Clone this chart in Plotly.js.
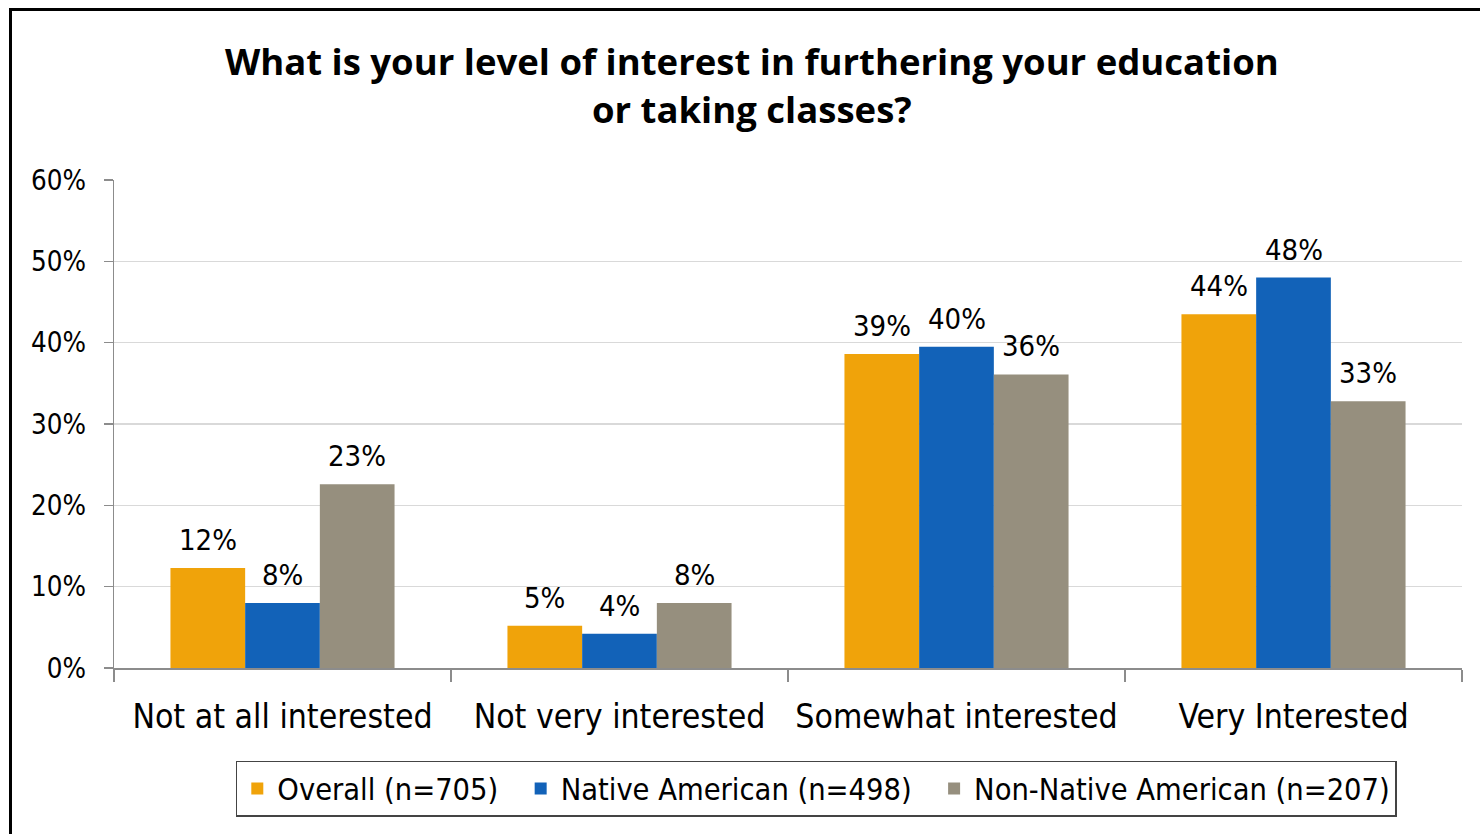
<!DOCTYPE html>
<html>
<head>
<meta charset="utf-8">
<script src="https://cdn.plot.ly/plotly-3.0.1.min.js"></script>
<style>
html,body{margin:0;padding:0;background:#fff;overflow:hidden;}
#frame{position:absolute;left:9px;top:8px;width:1600px;height:1000px;border-left:3px solid #000;border-top:3px solid #000;pointer-events:none;z-index:5;}
#chart{position:absolute;left:0;top:0;width:1480px;height:834px;}
</style>
</head>
<body>
<div id="chart"></div>
<div id="frame"></div>
<script>
const categories = ['Not at all interested', 'Not very interested', 'Somewhat interested', 'Very Interested'];
const seriesNames = ['Overall (n=705)', 'Native American (n=498)', 'Non-Native American (n=207)'];
const overall = [0.123, 0.052, 0.386, 0.435];
const native = [0.080, 0.042, 0.395, 0.480];
const nonNative = [0.226, 0.080, 0.361, 0.328];
const overallLabels = ['12%', '5%', '39%', '44%'];
const nativeLabels = ['8%', '4%', '40%', '48%'];
const nonNativeLabels = ['23%', '8%', '36%', '33%'];
const colors = ['#F0A30A', '#1262B8', '#968F7E'];
const yTicks = [0, 0.1, 0.2, 0.3, 0.4, 0.5, 0.6];
const yTickLabels = ['0%', '10%', '20%', '30%', '40%', '50%', '60%'];

const font = '"DejaVu Sans Condensed", "DejaVu Sans", sans-serif';
const values = [overall, native, nonNative];
const labels = [overallLabels, nativeLabels, nonNativeLabels];
const bargap = 0.335;
const nSeries = values.length;
const barW = (1 - bargap) / nSeries;

const data = values.map((v, i) => ({
  type: 'bar',
  name: seriesNames[i] + (i < nSeries - 1 ? '\u00a0\u00a0' : ''),
  x: categories,
  y: v,
  marker: {color: colors[i]},
  hoverinfo: 'none'
}));

const annotations = [];
values.forEach((v, i) => {
  v.forEach((val, j) => {
    annotations.push({
      x: j + (i - (nSeries - 1) / 2) * barW,
      y: val,
      xref: 'x', yref: 'y',
      text: labels[i][j],
      showarrow: false,
      xanchor: 'center', yanchor: 'bottom',
      yshift: 9,
      font: {family: font, size: 29, color: '#000'}
    });
  });
});

const layout = {
  width: 1480, height: 834,
  margin: {l: 114, r: 18, t: 180, b: 166},
  paper_bgcolor: '#fff', plot_bgcolor: '#fff',
  barmode: 'group', bargap: bargap, bargroupgap: 0,
  title: {
    text: '<b>What is your level of interest in furthering your education<br>or taking classes?</b>',
    font: {family: '"Open Sans", sans-serif', size: 36.5, color: '#000'},
    x: 0.508, xanchor: 'center', y: 0.91, yanchor: 'middle'
  },
  xaxis: {
    type: 'category',
    showline: true, linecolor: '#8c8c8c', linewidth: 1.5,
    ticks: 'outside', tickson: 'boundaries', ticklen: 12, tickcolor: '#8c8c8c', tickwidth: 1.5,
    tickfont: {family: font, size: 33.5, color: '#000'},
    ticklabelstandoff: 18,
    showgrid: false, fixedrange: true
  },
  yaxis: {
    range: [0, 0.6],
    tickvals: yTicks, ticktext: yTickLabels,
    showline: true, linecolor: '#8c8c8c', linewidth: 1.5,
    ticks: 'outside', ticklen: 9, tickcolor: '#8c8c8c', tickwidth: 1.5,
    tickfont: {family: font, size: 27.5, color: '#000'},
    ticklabelstandoff: 12,
    showgrid: true, gridcolor: '#d9d9d9', gridwidth: 1.2,
    zeroline: false, fixedrange: true
  },
  annotations: annotations,
  showlegend: true,
  legend: {
    orientation: 'h', x: 0.521, xanchor: 'center', y: -0.19, yanchor: 'top',
    font: {family: font, size: 30.5, color: '#000'},
    bordercolor: '#444', borderwidth: 1.5, bgcolor: '#fff',
    itemwidth: 30, traceorder: 'normal'
  }
};

Plotly.newPlot('chart', data, layout, {displayModeBar: false, staticPlot: true});
</script>
</body>
</html>
